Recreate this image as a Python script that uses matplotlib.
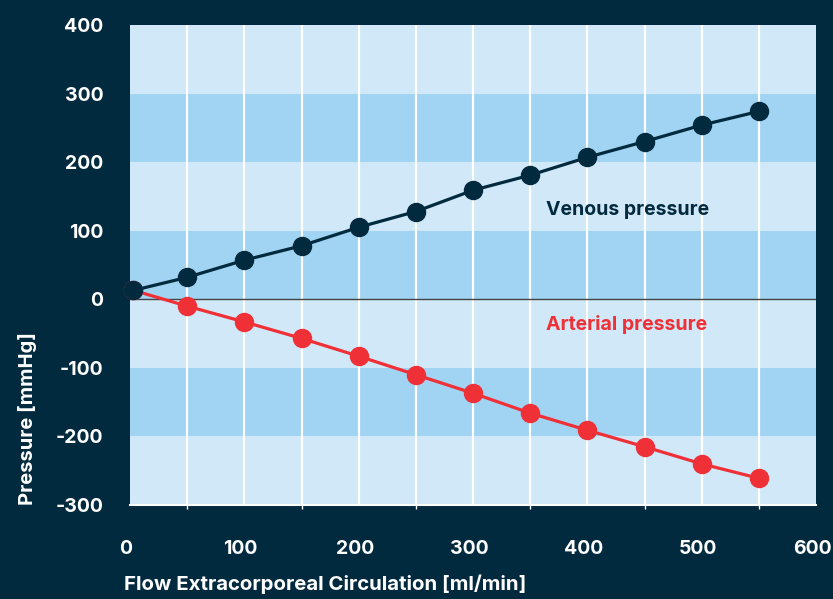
import matplotlib
matplotlib.use("Agg")
import matplotlib.pyplot as plt
from matplotlib.transforms import ScaledTranslation

flow = [3, 50, 100, 150, 200, 250, 300, 350, 400, 450, 500, 550]
venous = [13, 32, 57, 78, 105, 128, 159, 181, 207, 230, 254, 274]
arterial = [13, -10, -33, -57, -83, -110, -137, -166, -191, -215, -240, -261]
yticks = [-300, -200, -100, 0, 100, 200, 300, 400]
xticks = [0, 100, 200, 300, 400, 500, 600]

navy = "#022a3e"
red = "#f03037"
light = "#d0e8f7"
dark = "#a0d4f2"

plt.rcParams['font.family'] = ['Inter', 'DejaVu Sans']

fig = plt.figure(figsize=(8.33, 5.99), dpi=100, facecolor=navy)
ax = fig.add_axes([130/833, 1-505/599, (816-130)/833, (505-25)/599])
ax.set_facecolor(light)
ax.set_xlim(0, 600)
ax.set_ylim(-300, 400)

for lo in range(-300, 400, 100):
    c = dark if (lo // 100) % 2 == 0 else light
    ax.axhspan(lo, lo + 100, color=c, lw=0, zorder=0)

for xv in range(50, 600, 50):
    ax.axvline(xv, color="white", lw=1.6, zorder=1)
ax.axhline(0, color="#444444", lw=1.0, zorder=2)

ax.plot(flow, venous, color=navy, lw=2.3, marker="o", ms=13, zorder=4, clip_on=False)
ax.plot(flow, arterial, color=red, lw=2.3, marker="o", ms=13, zorder=3, clip_on=False)

ax.text(364, 130, "Venous pressure", color=navy, fontsize=14, fontweight="bold", va="center", ha="left")
ax.text(364, -37, "Arterial pressure", color=red, fontsize=14, fontweight="bold", va="center", ha="left")

ax.set_yticks(yticks)
ax.set_yticklabels([str(v) for v in yticks])
ax.set_xticks(xticks)
ax.set_xticklabels([str(v) for v in xticks])
ax.set_xticks(range(50, 600, 50), minor=True)
ax.tick_params(axis="y", length=0, pad=19, labelcolor="white", labelsize=14)
ax.tick_params(axis="x", which="major", length=0, pad=25, labelcolor="white", labelsize=14)
ax.tick_params(axis="x", which="minor", length=3, color="white", width=1)
shift = ScaledTranslation(-4/100, 0, fig.dpi_scale_trans)
for lab in ax.get_xticklabels():
    lab.set_fontweight("bold")
    lab.set_transform(lab.get_transform() + shift)
for lab in ax.get_yticklabels():
    lab.set_fontweight("bold")

for s in ["top", "right", "left"]:
    ax.spines[s].set_visible(False)
ax.spines["bottom"].set_color("white")
ax.spines["bottom"].set_linewidth(1.5)

fig.text(28/833, 1-419/599, "Pressure [mmHg]", rotation=90, color="white", fontsize=14.5,
         fontweight="bold", ha="center", va="center")
fig.text(124/833, 1-584/599, "Flow Extracorporeal Circulation [ml/min]", color="white",
         fontsize=14.7, fontweight="bold", ha="left", va="center")

fig.savefig("out.png", dpi=100, facecolor=navy)
